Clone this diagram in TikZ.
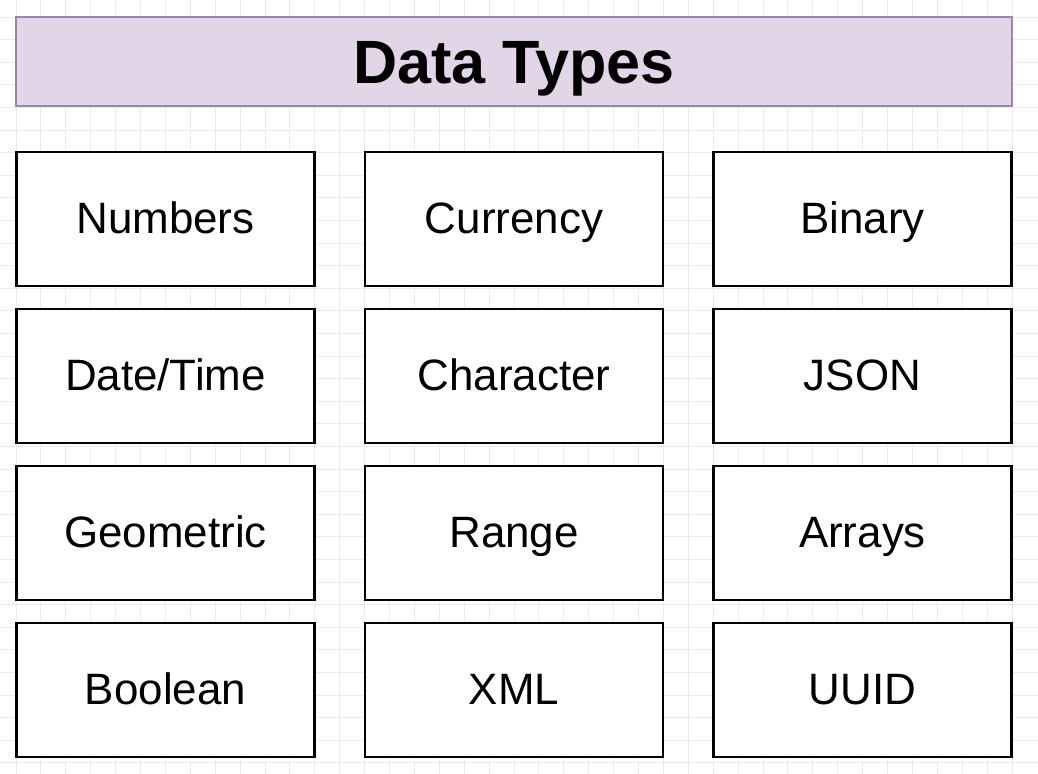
\documentclass[tikz,border=0pt]{standalone}
\usepackage{fontspec}
\setmainfont{Liberation Sans}
\usepackage{tikz}
\definecolor{titlefill}{HTML}{E1D5E7}
\definecolor{titleline}{HTML}{9A85AE}
\definecolor{gridline}{HTML}{EBEBEB}
\usetikzlibrary{positioning}
\tikzstyle{typebox}=[draw=black, fill=white, line width=1.2pt, minimum width=5.96cm, minimum height=2.68cm, inner sep=0pt, text height=17.9pt, text depth=1.2pt, font={\fontsize{25}{30}\selectfont}]
\tikzstyle{titlebox}=[draw=titleline, fill=titlefill, line width=1.2pt, minimum width=19.92cm, minimum height=1.78cm, inner sep=0pt, text height=24.9pt, text depth=0pt, font={\fontsize{34.8}{40}\selectfont\bfseries}]

\begin{document}
\begin{tikzpicture}[x=0.02cm, y=-0.02cm]

    \useasboundingbox[fill=white] (0, 0) rectangle (1038, 774);

    % background grid
    \foreach \i in {0,...,41} {
        \draw[gridline, line width=0.5pt] ({16+24.9*(\i-1)}, 0) -- ({16+24.9*(\i-1)}, 774);
    }
    \foreach \j in {0,...,34} {
        \draw[gridline, line width=0.5pt] (0, {17+22.6*(\j-1)}) -- (1038, {17+22.6*(\j-1)});
    }

    \node[titlebox] (title) at (514, 61.5) {Data Types};

    \node[typebox] (numbers) at (165.5, 219) {Numbers};
    \node[typebox] (currency) at (514, 219) {Currency};
    \node[typebox] (binary) at (862.5, 219) {Binary};

    \node[typebox] (datetime) at (165.5, 376) {Date/Time};
    \node[typebox] (character) at (514, 376) {Character};
    \node[typebox] (json) at (862.5, 376) {JSON};

    \node[typebox] (geometric) at (165.5, 533) {Geometric};
    \node[typebox] (range) at (514, 533) {Range};
    \node[typebox] (arrays) at (862.5, 533) {Arrays};

    \node[typebox] (boolean) at (165.5, 690) {Boolean};
    \node[typebox] (xml) at (514, 690) {XML};
    \node[typebox] (uuid) at (862.5, 690) {UUID};

\end{tikzpicture}
\end{document}
